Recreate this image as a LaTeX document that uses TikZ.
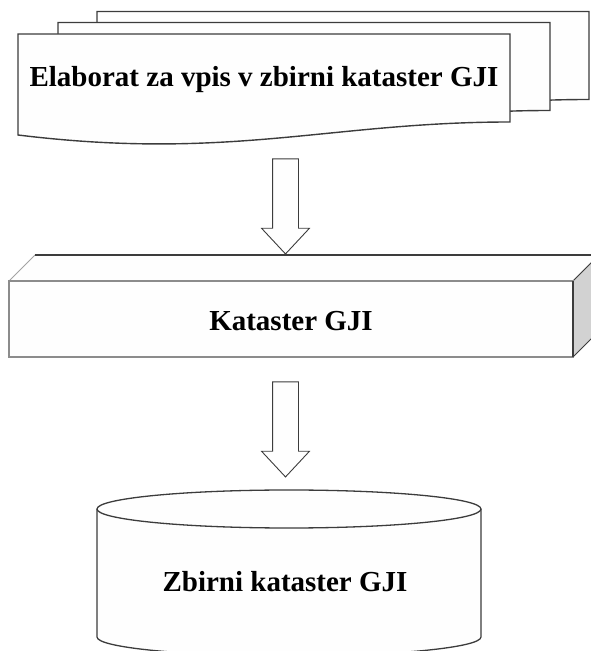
\documentclass[tikz,border=0pt]{standalone}
\usepackage{fontspec}
\setmainfont{Liberation Serif}
\usetikzlibrary{positioning,shapes.arrows}
\definecolor{edgeGray}{HTML}{3C3C3C}
\definecolor{faceGray}{HTML}{8C8C8C}
\definecolor{sideGray}{HTML}{D2D2D2}
\definecolor{paperWhite}{HTML}{FEFEFE}
\tikzset{
    docsheet/.style={draw=edgeGray,fill=paperWhite,line width=1.4pt},
    boxfront/.style={draw=faceGray,fill=paperWhite,line width=1.6pt},
    boxtop/.style={draw=faceGray!80,fill=paperWhite,line width=0.8pt},
    boxside/.style={draw=edgeGray,fill=sideGray,line width=0.8pt},
    drum/.style={draw=edgeGray,line width=1.3pt},
    blockarrow/.style={shape=single arrow,draw=edgeGray,fill=paperWhite,line width=0.9pt,
        rotate=-90,inner xsep=0pt,inner ysep=12.5pt,minimum height=95pt,minimum width=0pt,
        single arrow head extend=11pt,single arrow tip angle=86},
    boxlabel/.style={font=\fontsize{29}{32}\selectfont\bfseries,text=black,inner sep=0pt}
}
\begin{document}
\begin{tikzpicture}[x=1pt,y=1pt]
    \useasboundingbox (0,0) rectangle (590,651);
    % stack of sheets
    \foreach \dx/\dy in {79/22.5,40/11.5,0/0}
        \draw[docsheet,shift={(\dx,\dy)}] (18,617) -- (510,617) -- (510,529)
            .. controls (330,529) and (230,490) .. (18,516) -- cycle;
    \node[boxlabel,anchor=base] (elaborat) at (264,564) {Elaborat za vpis v zbirni kataster GJI};
    \node[blockarrow] (arr1) at (285.5,451.5) {};
    % flat box
    \draw[boxtop] (9,370) -- (35,396) -- (599,396) -- (573,370) -- cycle;
    \draw[edgeGray,line width=2pt] (35,396) -- (599,396);
    \draw[boxside] (573,370) -- (599,396) -- (599,320) -- (573,294) -- cycle;
    \draw[boxfront] (9,294) rectangle (573,370);
    \draw[edgeGray,line width=1.4pt] (573,294) -- (573,370);
    \node[boxlabel,anchor=base] (kataster) at (291,320) {Kataster GJI};
    \node[blockarrow] (arr2) at (285.5,228.5) {};
    % drum
    \fill[paperWhite] (97,142) -- (97,14) arc[start angle=180,end angle=360,x radius=192,y radius=19] -- (481,142) -- cycle;
    \draw[drum] (97,142) -- (97,14) arc[start angle=180,end angle=360,x radius=192,y radius=19] -- (481,142);
    \draw[drum,fill=paperWhite] (289,142) ellipse [x radius=192,y radius=19];
    \node[boxlabel,anchor=base] (zbirni) at (285,59) {Zbirni kataster GJI};
\end{tikzpicture}
\end{document}
